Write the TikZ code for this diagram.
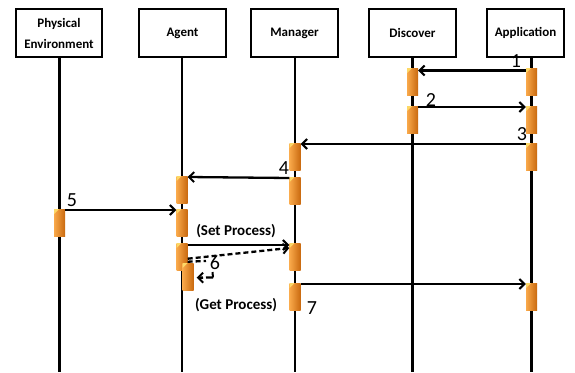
\documentclass[tikz,border=0pt]{standalone}
\usepackage{fontspec}
\setmainfont{Carlito}
\usetikzlibrary{arrows.meta}

\definecolor{barlight}{HTML}{F9A94A}
\definecolor{barmid}{HTML}{F39022}
\definecolor{bardark}{HTML}{C9690F}
\definecolor{barhi}{HTML}{FDD866}

\tikzset{
  actor/.style={draw=black, line width=2.8pt, fill=white, minimum height=48pt,
    inner sep=1pt, align=center, font=\bfseries\fontsize{13}{21}\selectfont},
  life/.style={line width=2.3pt},
  bar/.style={rectangle, inner sep=0pt, minimum width=11pt, minimum height=27pt,
    anchor=north, left color=barlight, middle color=barmid, right color=bardark,
    path picture={\fill[barhi] (path picture bounding box.north west) -- ++(5pt,0pt)
      -- ++(-5pt,-5pt) -- cycle;}},
  msg/.style={line width=2.3pt, -{Straight Barb[length=5pt,width=10pt,line width=2pt]}},
  ret/.style={msg, dash pattern=on 5pt off 3pt},
  num/.style={font=\fontsize{20}{20}\selectfont, inner sep=0pt},
  proc/.style={font=\bfseries\fontsize{15}{15}\selectfont, inner sep=0pt},
}

\begin{document}
\begin{tikzpicture}[x=1pt, y=-1pt]
\useasboundingbox[fill=white] (0,0) rectangle (575,372);

% participants
\node[actor, minimum width=86pt] (phy) at (59,33) {Physical\\Environment};
\node[actor, minimum width=87pt] (agt) at (182.5,33) {Agent};
\node[actor, minimum width=87pt] (mgr) at (294.5,33) {Manager};
\node[actor, minimum width=87pt] (dsc) at (412.5,33) {Discover};
\node[actor, minimum width=77pt] (app) at (525.5,33) {Application};

% lifeline ends
\coordinate (phyE) at (59.5,372);
\coordinate (agtE) at (182,372);
\coordinate (mgrE) at (295,372);
\coordinate (dscE) at (412.5,372);
\coordinate (appE) at (531.5,372);

\draw[life] (phyE |- phy.south) -- (phyE);
\draw[life] (agtE |- agt.south) -- (agtE);
\draw[life] (mgrE |- mgr.south) -- (mgrE);
\draw[life] (dscE |- dsc.south) -- (dscE);
\draw[life] (appE |- app.south) -- (appE);

% activation bars
\node[bar] (d1) at (412.5,68) {};
\node[bar] (d2) at (412.5,106) {};
\node[bar] (a1) at (531.5,68) {};
\node[bar] (a2) at (531.5,106) {};
\node[bar] (a3) at (531.5,143) {};
\node[bar] (a4) at (531.5,283) {};
\node[bar] (m1) at (295,143) {};
\node[bar] (m2) at (295,177) {};
\node[bar] (m3) at (295,243) {};
\node[bar] (m4) at (295,283) {};
\node[bar] (g1) at (182,176) {};
\node[bar] (g2) at (182,209) {};
\node[bar] (g3) at (182,243) {};
\node[bar] (g4) at (188,263) {};
\node[bar] (p1) at (59.5,209) {};

% messages
\draw[msg] ([yshift=-2.5pt]a1.north west) -- ([yshift=-2.5pt]d1.north east);
\draw[msg] ([yshift=-1pt]d2.north east) -- ([yshift=-1pt]a2.north west);
\draw[msg] ([yshift=-1pt]a3.north west) -- ([yshift=-1pt]m1.north east);
\draw[msg] ([yshift=-1pt]m2.north west) -- ([yshift=-1pt]g1.north east);
\draw[msg] ([yshift=-1pt]p1.north east) -- ([yshift=-1pt]g2.north west);
\draw[msg] ([yshift=-2pt]g3.north east) -- ([yshift=-2pt]m3.north west);
\draw[ret] ([yshift=-2pt]g3.east) -- ([yshift=-5pt]m3.north west);
\coordinate (dashEnd) at (206,261);
\draw[line width=2.3pt, dash pattern=on 5pt off 3pt] ([yshift=-5pt]g3.east) -- (dashEnd);
\coordinate (retStart) at (213,277.5);
\draw[ret, dash pattern=on 7pt off 3pt] (retStart) -- ([xshift=3pt,yshift=-1pt]g4.east);
\coordinate (tickTop) at (212.5,272);
\draw[line width=2pt] (tickTop) -- (retStart);
\draw[msg] ([yshift=-1pt]m4.north east) -- ([yshift=-1pt]a4.north west);

% message numbers
\node[num] at (516,61) {1};
\node[num] at (431,100) {2};
\node[num] at (522,134) {3};
\node[num] at (284,168) {4};
\node[num] at (72,200) {5};
\node[num] at (215,263) {6};
\node[num] at (312,308) {7};

% process labels
\node[proc] at (236,231) {(Set Process)};
\node[proc] at (236,305) {(Get Process)};
\end{tikzpicture}
\end{document}
